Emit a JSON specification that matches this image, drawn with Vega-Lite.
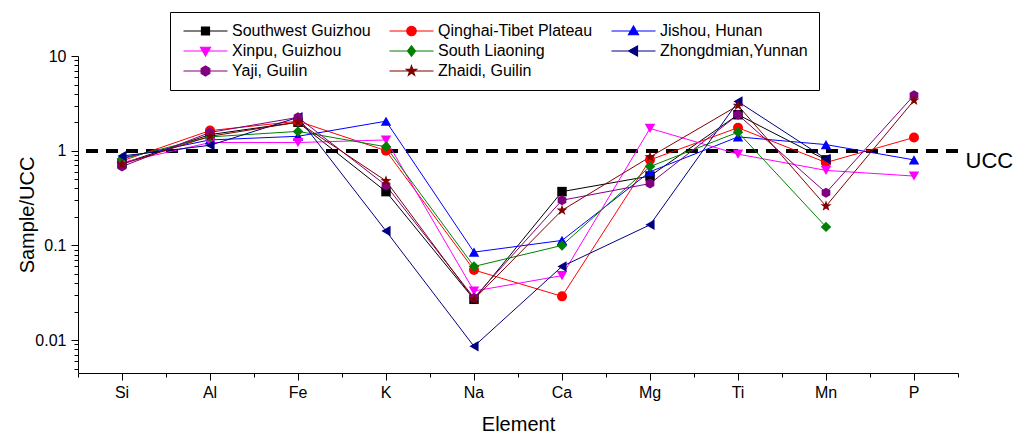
{
  "$schema": "https://vega.github.io/schema/vega-lite/v6.json",
  "width": 880,
  "height": 317,
  "autosize": {"type": "none"},
  "padding": {"left": 78, "top": 56, "right": 70, "bottom": 61},
  "config": {
    "font": "Liberation Sans",
    "view": {"stroke": null},
    "axis": {"labelColor": "black", "titleColor": "black", "tickColor": "black", "domainColor": "black", "titleFontWeight": "normal", "grid": false}
  },
  "data": {
    "values": [
      {"series": "Southwest Guizhou", "element": "Si", "value": 0.73},
      {"series": "Southwest Guizhou", "element": "Al", "value": 1.48},
      {"series": "Southwest Guizhou", "element": "Fe", "value": 2.0},
      {"series": "Southwest Guizhou", "element": "K", "value": 0.37},
      {"series": "Southwest Guizhou", "element": "Na", "value": 0.027},
      {"series": "Southwest Guizhou", "element": "Ca", "value": 0.37},
      {"series": "Southwest Guizhou", "element": "Mg", "value": 0.54},
      {"series": "Southwest Guizhou", "element": "Ti", "value": 2.4},
      {"series": "Southwest Guizhou", "element": "Mn", "value": 0.8},
      {"series": "Qinghai-Tibet Plateau", "element": "Si", "value": 0.78},
      {"series": "Qinghai-Tibet Plateau", "element": "Al", "value": 1.63},
      {"series": "Qinghai-Tibet Plateau", "element": "Fe", "value": 2.05},
      {"series": "Qinghai-Tibet Plateau", "element": "K", "value": 1.0},
      {"series": "Qinghai-Tibet Plateau", "element": "Na", "value": 0.055},
      {"series": "Qinghai-Tibet Plateau", "element": "Ca", "value": 0.029},
      {"series": "Qinghai-Tibet Plateau", "element": "Mg", "value": 0.8},
      {"series": "Qinghai-Tibet Plateau", "element": "Ti", "value": 1.75},
      {"series": "Qinghai-Tibet Plateau", "element": "Mn", "value": 0.75},
      {"series": "Qinghai-Tibet Plateau", "element": "P", "value": 1.38},
      {"series": "Jishou, Hunan", "element": "Si", "value": 0.84},
      {"series": "Jishou, Hunan", "element": "Al", "value": 1.3},
      {"series": "Jishou, Hunan", "element": "Fe", "value": 1.42},
      {"series": "Jishou, Hunan", "element": "K", "value": 2.05},
      {"series": "Jishou, Hunan", "element": "Na", "value": 0.085},
      {"series": "Jishou, Hunan", "element": "Ca", "value": 0.113},
      {"series": "Jishou, Hunan", "element": "Mg", "value": 0.6},
      {"series": "Jishou, Hunan", "element": "Ti", "value": 1.4},
      {"series": "Jishou, Hunan", "element": "Mn", "value": 1.16},
      {"series": "Jishou, Hunan", "element": "P", "value": 0.8},
      {"series": "Xinpu, Guizhou", "element": "Si", "value": 0.75},
      {"series": "Xinpu, Guizhou", "element": "Al", "value": 1.22},
      {"series": "Xinpu, Guizhou", "element": "Fe", "value": 1.22},
      {"series": "Xinpu, Guizhou", "element": "K", "value": 1.3},
      {"series": "Xinpu, Guizhou", "element": "Na", "value": 0.033},
      {"series": "Xinpu, Guizhou", "element": "Ca", "value": 0.048},
      {"series": "Xinpu, Guizhou", "element": "Mg", "value": 1.72},
      {"series": "Xinpu, Guizhou", "element": "Ti", "value": 0.92},
      {"series": "Xinpu, Guizhou", "element": "Mn", "value": 0.62},
      {"series": "Xinpu, Guizhou", "element": "P", "value": 0.54},
      {"series": "South Liaoning", "element": "Si", "value": 0.82},
      {"series": "South Liaoning", "element": "Al", "value": 1.4},
      {"series": "South Liaoning", "element": "Fe", "value": 1.6},
      {"series": "South Liaoning", "element": "K", "value": 1.1},
      {"series": "South Liaoning", "element": "Na", "value": 0.06},
      {"series": "South Liaoning", "element": "Ca", "value": 0.1},
      {"series": "South Liaoning", "element": "Mg", "value": 0.68},
      {"series": "South Liaoning", "element": "Ti", "value": 1.57},
      {"series": "South Liaoning", "element": "Mn", "value": 0.157},
      {"series": "Zhongdmian,Yunnan", "element": "Si", "value": 0.88},
      {"series": "Zhongdmian,Yunnan", "element": "Al", "value": 1.14},
      {"series": "Zhongdmian,Yunnan", "element": "Fe", "value": 2.25},
      {"series": "Zhongdmian,Yunnan", "element": "K", "value": 0.142},
      {"series": "Zhongdmian,Yunnan", "element": "Na", "value": 0.0086},
      {"series": "Zhongdmian,Yunnan", "element": "Ca", "value": 0.06},
      {"series": "Zhongdmian,Yunnan", "element": "Mg", "value": 0.165},
      {"series": "Zhongdmian,Yunnan", "element": "Ti", "value": 3.3},
      {"series": "Zhongdmian,Yunnan", "element": "Mn", "value": 0.82},
      {"series": "Yaji, Guilin", "element": "Si", "value": 0.68},
      {"series": "Yaji, Guilin", "element": "Al", "value": 1.56},
      {"series": "Yaji, Guilin", "element": "Fe", "value": 2.25},
      {"series": "Yaji, Guilin", "element": "K", "value": 0.43},
      {"series": "Yaji, Guilin", "element": "Na", "value": 0.028},
      {"series": "Yaji, Guilin", "element": "Ca", "value": 0.3},
      {"series": "Yaji, Guilin", "element": "Mg", "value": 0.45},
      {"series": "Yaji, Guilin", "element": "Ti", "value": 2.4},
      {"series": "Yaji, Guilin", "element": "Mn", "value": 0.36},
      {"series": "Yaji, Guilin", "element": "P", "value": 3.85},
      {"series": "Zhaidi, Guilin", "element": "Si", "value": 0.72},
      {"series": "Zhaidi, Guilin", "element": "Al", "value": 1.42},
      {"series": "Zhaidi, Guilin", "element": "Fe", "value": 2.0},
      {"series": "Zhaidi, Guilin", "element": "K", "value": 0.48},
      {"series": "Zhaidi, Guilin", "element": "Na", "value": 0.027},
      {"series": "Zhaidi, Guilin", "element": "Ca", "value": 0.235},
      {"series": "Zhaidi, Guilin", "element": "Mg", "value": 0.86},
      {"series": "Zhaidi, Guilin", "element": "Ti", "value": 3.0},
      {"series": "Zhaidi, Guilin", "element": "Mn", "value": 0.26},
      {"series": "Zhaidi, Guilin", "element": "P", "value": 3.4}
    ]
  },
  "resolve": {"axis": {"x": "independent", "y": "independent"}},
  "layer": [
    {
      "mark": {"type": "rule", "strokeDash": [12, 8], "strokeWidth": 3, "color": "black"},
      "encoding": {
        "y": {
          "datum": 1, "type": "quantitative",
          "scale": {"type": "log", "domain": [0.0045, 10], "nice": false},
          "axis": {"orient": "right", "values": [1], "labelExpr": "'UCC'", "labelFontSize": 22, "ticks": false, "domain": false, "labelPadding": 7, "labelBaseline": "top", "title": null}
        }
      }
    },
    {
      "mark": {"type": "line", "strokeWidth": 1},
      "encoding": {
        "x": {
          "field": "element", "type": "ordinal", "bandPosition": 0.5,
          "scale": {"type": "band", "domain": ["Si", "Al", "Fe", "K", "Na", "Ca", "Mg", "Ti", "Mn", "P"], "paddingInner": 0, "paddingOuter": 0},
          "axis": {"orient": "bottom", "title": "Element", "titleFontSize": 20, "titlePadding": 14, "labelFontSize": 16, "labelPadding": 4, "tickSize": 7, "labelAngle": 0}
        },
        "y": {
          "field": "value", "type": "quantitative",
          "scale": {"type": "log", "domain": [0.0045, 10], "nice": false},
          "axis": {"orient": "left", "values": [0.01, 0.1, 1, 10], "format": "~g", "title": "Sample/UCC", "titleFontSize": 20, "titlePadding": -3, "labelFontSize": 16, "labelPadding": 5, "tickSize": 7}
        },
        "color": {
          "field": "series", "type": "nominal",
          "scale": {
            "domain": ["Southwest Guizhou", "Qinghai-Tibet Plateau", "Jishou, Hunan", "Xinpu, Guizhou", "South Liaoning", "Zhongdmian,Yunnan", "Yaji, Guilin", "Zhaidi, Guilin"],
            "range": ["#000000", "#FF0000", "#0000FF", "#FF00FF", "#008000", "#000080", "#800080", "#800000"]
          },
          "legend": {
            "orient": "none", "legendX": 92, "legendY": -44, "columns": 3, "direction": "horizontal", "gridAlign": "each",
            "title": null, "strokeColor": "black", "fillColor": "white", "padding": 11,
            "labelFontSize": 16, "labelColor": "black", "labelOffset": 35, "labelLimit": 300,
            "symbolSize": 100, "rowPadding": 4, "columnPadding": 16,
            "encode": {
              "symbols": {
                "update": {
                  "shape": {"signal": "datum.value === 'Southwest Guizhou' ? 'M-1.1,0H7.7M2.5,-0.8H4.1V0.8H2.5Z' : datum.value === 'Qinghai-Tibet Plateau' ? 'M-1.1,0H7.7M4.25,0A0.95,0.95,0,1,1,2.35,0A0.95,0.95,0,1,1,4.25,0Z' : datum.value === 'Jishou, Hunan' ? 'M-1.1,0H7.7M3.3,-1L4.3,0.75H2.3Z' : datum.value === 'Xinpu, Guizhou' ? 'M-1.1,0H7.7M3.3,1L4.3,-0.75H2.3Z' : datum.value === 'South Liaoning' ? 'M-1.1,0H7.7M3.3,-1.05L4.1,0L3.3,1.05L2.5,0Z' : datum.value === 'Zhongdmian,Yunnan' ? 'M-1.1,0H7.7M2.3,0L4.1,-1V1Z' : datum.value === 'Yaji, Guilin' ? 'M-1.1,0H7.7M3.3,-1L4.17,-0.5V0.5L3.3,1L2.43,0.5V-0.5Z' : 'M-1.1,0H7.7M3.3,-1.05L3.547,-0.34L4.299,-0.324L3.7,0.13L3.917,0.849L3.3,0.42L2.683,0.849L2.9,0.13L2.301,-0.324L3.053,-0.34Z'"},
                  "fill": {"signal": "scale('color', datum.value)"},
                  "strokeWidth": {"value": 1.2},
                  "opacity": {"value": 1}
                },
                "shape": {"value": {"expr": "datum.value === 'Southwest Guizhou' ? 'M-1.1,0H7.7M2.5,-0.8H4.1V0.8H2.5Z' : datum.value === 'Qinghai-Tibet Plateau' ? 'M-1.1,0H7.7M4.25,0A0.95,0.95,0,1,1,2.35,0A0.95,0.95,0,1,1,4.25,0Z' : datum.value === 'Jishou, Hunan' ? 'M-1.1,0H7.7M3.3,-1L4.3,0.75H2.3Z' : datum.value === 'Xinpu, Guizhou' ? 'M-1.1,0H7.7M3.3,1L4.3,-0.75H2.3Z' : datum.value === 'South Liaoning' ? 'M-1.1,0H7.7M3.3,-1.05L4.1,0L3.3,1.05L2.5,0Z' : datum.value === 'Zhongdmian,Yunnan' ? 'M-1.1,0H7.7M2.3,0L4.1,-1V1Z' : datum.value === 'Yaji, Guilin' ? 'M-1.1,0H7.7M3.3,-1L4.17,-0.5V0.5L3.3,1L2.43,0.5V-0.5Z' : 'M-1.1,0H7.7M3.3,-1.05L3.547,-0.34L4.299,-0.324L3.7,0.13L3.917,0.849L3.3,0.42L2.683,0.849L2.9,0.13L2.301,-0.324L3.053,-0.34Z'"}},
                "fill": {"value": {"expr": "scale('color', datum.value)"}},
                "strokeWidth": {"value": 1.2},
                "opacity": {"value": 1}
              }
            }
          }
        },
        "detail": {"field": "series"}
      }
    },
    {
      "mark": {"type": "point", "opacity": 0},
      "encoding": {
        "x": {
          "field": "element", "type": "ordinal", "bandPosition": 0.5,
          "axis": {"orient": "bottom", "tickBand": "extent", "labels": false, "domain": false, "title": null, "tickSize": 4}
        },
        "y": {
          "field": "value", "type": "quantitative",
          "axis": {"orient": "left", "values": [0.005, 0.006, 0.007, 0.008, 0.009, 0.02, 0.03, 0.04, 0.05, 0.06, 0.07, 0.08, 0.09, 0.2, 0.3, 0.4, 0.5, 0.6, 0.7, 0.8, 0.9, 2, 3, 4, 5, 6, 7, 8, 9], "labels": false, "domain": false, "title": null, "tickSize": 4}
        }
      }
    },
    {
      "encoding": {
        "x": {"field": "element", "type": "ordinal", "bandPosition": 0.5, "axis": null},
        "y": {"field": "value", "type": "quantitative", "axis": null}
      },
      "layer": [
        {"transform": [{"filter": "datum.series === 'Southwest Guizhou'"}], "mark": {"type": "point", "filled": true, "opacity": 1, "size": 90, "shape": "square", "color": "#000000"}},
        {"transform": [{"filter": "datum.series === 'Qinghai-Tibet Plateau'"}], "mark": {"type": "point", "filled": true, "opacity": 1, "size": 100, "shape": "circle", "color": "#FF0000"}},
        {"transform": [{"filter": "datum.series === 'Jishou, Hunan'"}], "mark": {"type": "point", "filled": true, "opacity": 1, "size": 110, "shape": "triangle-up", "color": "#0000FF"}},
        {"transform": [{"filter": "datum.series === 'Xinpu, Guizhou'"}], "mark": {"type": "point", "filled": true, "opacity": 1, "size": 110, "shape": "triangle-down", "color": "#FF00FF"}},
        {"transform": [{"filter": "datum.series === 'South Liaoning'"}], "mark": {"type": "point", "filled": true, "opacity": 1, "size": 110, "shape": "diamond", "color": "#008000"}},
        {"transform": [{"filter": "datum.series === 'Zhongdmian,Yunnan'"}], "mark": {"type": "point", "filled": true, "opacity": 1, "size": 110, "shape": "triangle-left", "color": "#000080"}},
        {"transform": [{"filter": "datum.series === 'Yaji, Guilin'"}], "mark": {"type": "point", "filled": true, "opacity": 1, "size": 100, "shape": "M0,-1L0.87,-0.5V0.5L0,1L-0.87,0.5V-0.5Z", "color": "#800080"}},
        {"transform": [{"filter": "datum.series === 'Zhaidi, Guilin'"}], "mark": {"type": "point", "filled": true, "opacity": 1, "size": 110, "shape": "M0,-1.1L0.259,-0.356L1.046,-0.34L0.419,0.136L0.647,0.89L0,0.44L-0.647,0.89L-0.419,0.136L-1.046,-0.34L-0.259,-0.356Z", "color": "#800000"}}
      ]
    }
  ]
}
